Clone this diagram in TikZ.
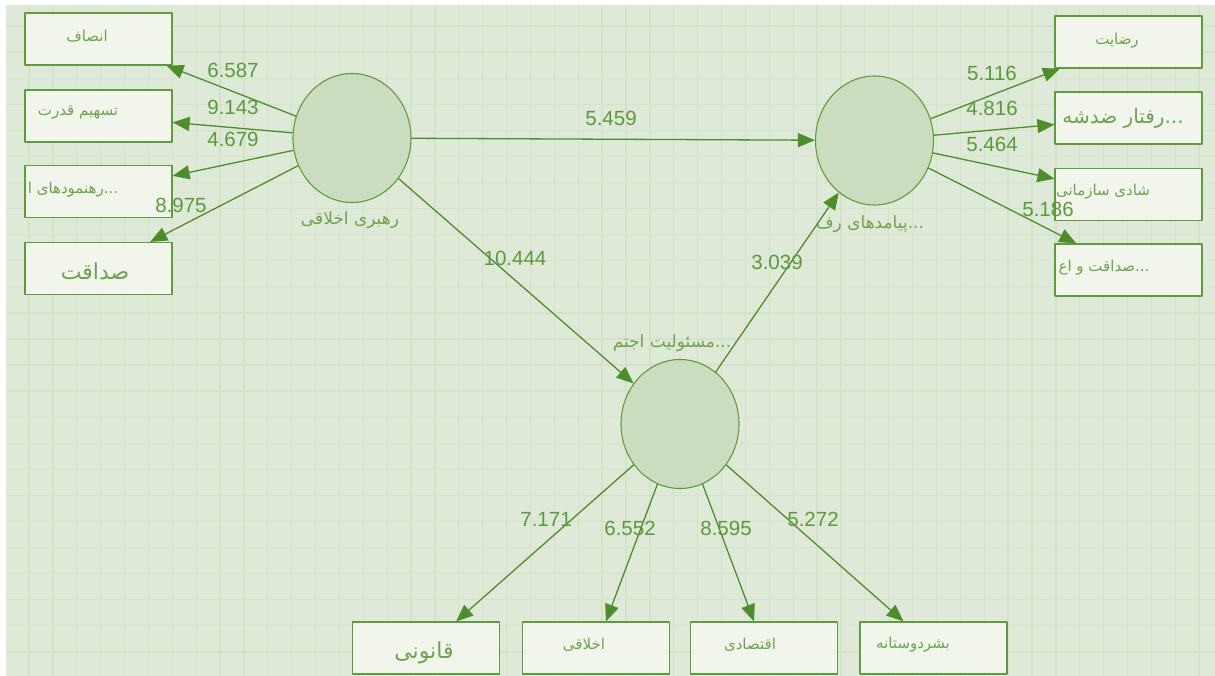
\documentclass[tikz,border=0pt]{standalone}
\usepackage{fontspec}
\setmainfont{Liberation Sans}
\newfontfamily\farsi[Script=Arabic]{DejaVu Sans}
\TeXXeTstate=1
\usetikzlibrary{arrows.meta,shapes.geometric}
\definecolor{bgcol}{HTML}{DFE9D8}
\definecolor{gridcol}{HTML}{D3E2C9}
\definecolor{boxfill}{HTML}{F1F5EC}
\definecolor{boxline}{HTML}{5E9D3C}
\definecolor{circfill}{HTML}{CCDDBF}
\definecolor{arrcol}{HTML}{4E8E2A}
\definecolor{numcol}{HTML}{5B9A3A}
\definecolor{txtcol}{HTML}{6EA34E}
\newcommand{\fa}[1]{{\farsi\beginR #1\endR}}
\tikzset{
	indbox/.style={draw=boxline,fill=boxfill,line width=1.2pt,minimum width=147pt,minimum height=52pt,inner sep=0pt},
	latent/.style={ellipse,draw=boxline,fill=circfill,line width=1.1pt,minimum width=118pt,minimum height=129pt,inner sep=0pt},
	lnk/.style={->,draw=arrcol,line width=1.3pt},
	num/.style={text=numcol,inner sep=0pt,font=\fontsize{20.5}{20.5}\selectfont},
	ftxt/.style={text=txtcol,inner sep=0pt,font=\fontsize{15}{15}\selectfont},
	bigtxt/.style={text=txtcol,inner sep=0pt,font=\fontsize{22}{22}\selectfont},
	lattxt/.style={text=txtcol,inner sep=0pt,font=\fontsize{17}{17}\selectfont}
}
\begin{document}
\begin{tikzpicture}[x=1pt,y=-1pt,line join=round,>={Triangle[length=17pt,width=14pt]}]
	\useasboundingbox (0,0) rectangle (1215,676);
	%Nen va luoi
	\fill[bgcol] (6,5) rectangle (1215,676);
	\foreach \i in {0,...,49}
		\draw[gridcol,line width=1.3pt] ({29+23.88*\i},5) -- ({29+23.88*\i},676);
	\foreach \j in {0,...,24}
		\draw[gridcol,line width=1.3pt] (6,{26+26.08*\j}) -- (1215,{26+26.08*\j});
	%Cac bien
	\node[latent] (L) at (352,138) {};
	\node[latent] (R) at (874.5,140.5) {};
	\node[latent] (B) at (680,424) {};
	\node[lattxt] (Lt) at (350,220) {\fa{رهبری اخلاقی}};
	\node[lattxt] (Rt) at (870,224) {\fa{...پیامدهای رف}};
	\node[lattxt] (Bt) at (672,343) {\fa{...مسئولیت اجتم}};
	%Cac o ben trai
	\node[indbox] (l1) at (98.5,39) {};
	\node[indbox] (l2) at (98.5,116) {};
	\node[indbox] (l3) at (98.5,191.5) {};
	\node[indbox] (l4) at (98.5,268.5) {};
	\node[ftxt] (l1t) at (87,36) {\fa{انصاف}};
	\node[ftxt] (l2t) at (78,113) {\fa{تسهیم قدرت}};
	\node[ftxt] (l3t) at (73,190) {\fa{...رهنمودهای ا}};
	\node[bigtxt] (l4t) at (95,271) {\fa{صداقت}};
	%Cac o ben phai
	\node[indbox] (r1) at (1128.5,42) {};
	\node[indbox] (r2) at (1128.5,118) {};
	\node[indbox] (r3) at (1128.5,194.5) {};
	\node[indbox] (r4) at (1128.5,270) {};
	\node[ftxt] (r1t) at (1117,41) {\fa{رضایت}};
	\node[bigtxt,font=\fontsize{20}{20}\selectfont] (r2t) at (1123,118) {\fa{...رفتار ضدشه}};
	\node[ftxt] (r3t) at (1103,192) {\fa{شادی سازمانی}};
	\node[ftxt] (r4t) at (1104,268) {\fa{...صداقت و اع}};
	%Cac o ben duoi
	\node[indbox] (b1) at (426,648) {};
	\node[indbox] (b2) at (596,648) {};
	\node[indbox] (b3) at (764,648) {};
	\node[indbox] (b4) at (933.5,648) {};
	\node[bigtxt] (b1t) at (424,653) {\fa{قانونی}};
	\node[ftxt] (b2t) at (584,645) {\fa{اخلاقی}};
	\node[ftxt] (b3t) at (750,645) {\fa{اقتصادی}};
	\node[ftxt] (b4t) at (913,645) {\fa{بشردوستانه}};
	%Cac mui ten
	\foreach \k in {1,...,4}{
		\draw[lnk] (L) -- (l\k);
		\draw[lnk] (R) -- (r\k);
		\draw[lnk] (B) -- (b\k);
	}
	\draw[lnk] (L) -- (R);
	\draw[lnk] (L) -- (B);
	\draw[lnk] (B) -- (R);
	%Cac he so
	\node[num] (n1) at (233,70) {6.587};
	\node[num] (n2) at (233,107) {9.143};
	\node[num] (n3) at (233,139) {4.679};
	\node[num] (n4) at (181,205) {8.975};
	\node[num] (n5) at (611,118) {5.459};
	\node[num] (n6) at (515,258) {10.444};
	\node[num] (n7) at (777,262) {3.039};
	\node[num] (n8) at (992,73) {5.116};
	\node[num] (n9) at (992,108) {4.816};
	\node[num] (n10) at (992,144) {5.464};
	\node[num] (n11) at (1048,209) {5.186};
	\node[num] (n12) at (546,519) {7.171};
	\node[num] (n13) at (630,528) {6.552};
	\node[num] (n14) at (726,528) {8.595};
	\node[num] (n15) at (813,519) {5.272};
\end{tikzpicture}
\end{document}
